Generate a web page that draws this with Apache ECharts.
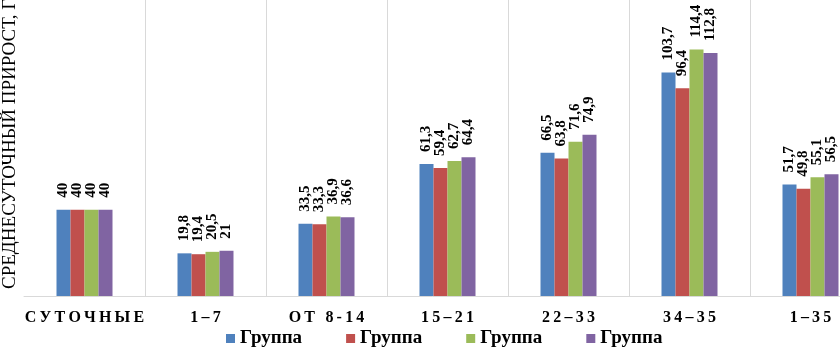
<!DOCTYPE html>
<html>
<head>
<meta charset="utf-8">
<script src="https://cdn.jsdelivr.net/npm/echarts@6/dist/echarts.min.js"></script>
<style>
  html, body { margin: 0; padding: 0; background: #fff; }
  #chart { width: 840px; height: 351px; }
</style>
</head>
<body>
<div id="chart"></div>
<script>
const categories = ["СУТОЧНЫЕ", "1–7", "ОТ 8-14", "15–21", "22–33", "34–35", "1–35"];
const groupNames = ["Группа", "Группа", "Группа", "Группа"];
const group1 = [40, 19.8, 33.5, 61.3, 66.5, 103.7, 51.7];
const group2 = [40, 19.4, 33.3, 59.4, 63.8, 96.4, 49.8];
const group3 = [40, 20.5, 36.9, 62.7, 71.6, 114.4, 55.1];
const group4 = [40, 21, 36.6, 64.4, 74.9, 112.8, 56.5];
const colors = ["#4F81BD", "#C0504D", "#9BBB59", "#8064A2"];
const yTitle = "СРЕДНЕСУТОЧНЫЙ ПРИРОСТ, Г";

const serif = "'Liberation Serif', 'DejaVu Serif', serif";

// spread letters like the original (letter-spaced caps)
const spaced = s => s.split("").join("\u2009");

const series = [group1, group2, group3, group4].map((vals, i) => ({
  name: groupNames[i] + "\u200b".repeat(i), // legend needs unique names
  type: "bar",
  data: vals,
  barWidth: 14,
  barGap: "0%",
  itemStyle: { color: colors[i] },
  label: {
    show: true,
    position: "top",
    rotate: 90,
    align: "left",
    verticalAlign: "middle",
    distance: 12,
    color: "#000",
    fontFamily: serif,
    fontWeight: "bold",
    fontSize: 15,
    formatter: p => String(p.value).replace(".", ",")
  }
}));

const option = {
  animation: false,
  grid: { left: 24, width: 847, top: 0, bottom: 55, outerBoundsMode: "none" },
  legend: {
    top: 329,
    left: 226,
    padding: 0,
    itemWidth: 9,
    itemHeight: 9,
    itemGap: 44,
    icon: "rect",
    textStyle: { fontFamily: serif, fontWeight: "bold", fontSize: 19, color: "#000" },
    formatter: n => n.replace(/\u200b/g, "")
  },
  xAxis: {
    type: "category",
    data: categories,
    axisTick: { show: false },
    axisLine: { lineStyle: { color: "#d9d9d9", width: 1 } },
    splitLine: {
      show: true,
      interval: i => i > 0,
      lineStyle: { color: "#d9d9d9", width: 1 }
    },
    axisLabel: {
      interval: 0,
      margin: 14,
      color: "#000",
      fontFamily: serif,
      fontWeight: "bold",
      fontSize: 16,
      formatter: v => spaced(v)
    }
  },
  yAxis: {
    type: "value",
    min: 0,
    max: 137.4,
    show: true,
    axisLine: { show: false },
    axisLabel: { show: false },
    axisTick: { show: false },
    splitLine: { show: false }
  },
  graphic: [{
    type: "text",
    x: 10,
    y: 289,
    rotation: Math.PI / 2,
    style: {
      text: yTitle,
      fontFamily: serif,
      fontSize: 19,
      fill: "#000",
      align: "left",
      verticalAlign: "middle"
    }
  }],
  series: series
};

const chart = echarts.init(document.getElementById("chart"));
chart.setOption(option);
</script>
</body>
</html>
